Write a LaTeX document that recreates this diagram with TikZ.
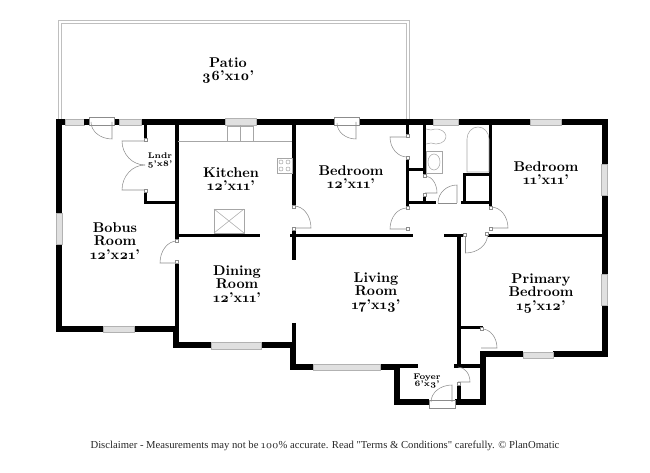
\documentclass[tikz,border=0pt]{standalone}
\usepackage{fontspec}
\setmainfont[Numbers=OldStyle]{Latin Modern Roman}
\newfontfamily\notefont{Liberation Serif}
\usepackage{tikz}
\tikzset{
	wall/.style={line width=4.5pt, black},
	thinwall/.style={line width=2.3pt, black},
	window/.style={draw=black!30, fill=black!12, line width=0.5pt},
	doorline/.style={draw=black!45, line width=0.4pt},
	jamb/.style={draw=black!45, fill=white, line width=0.3pt},
	fixture/.style={draw=black!35, line width=0.4pt},
	patioline/.style={draw=black!25, line width=0.6pt},
	roomlabel/.style={font=\bfseries\fontsize{10.6}{9.9}\selectfont, align=center, inner sep=0pt, text=black},
	smalllabel/.style={font=\bfseries\fontsize{6.2}{5.9}\selectfont, align=center, inner sep=0pt, text=black}
}
\begin{document}
\begin{tikzpicture}[x=0.75pt, y=-0.75pt]
	\useasboundingbox (0,0) rectangle (650,473);

	% Patio
	\draw[patioline] (58.5,119) -- (58.5,20.5) -- (409,20.5) -- (409,119);
	\draw[patioline] (61.5,119) -- (61.5,23) -- (406,23) -- (406,119);

	% Outer walls
	\draw[wall] (84,122) -- (58.7,122) -- (58.7,213);
	\draw[wall] (58.7,244) -- (58.7,329) -- (103,329);
	\draw[wall] (134,329) -- (175.5,329) -- (175.5,345) -- (211,345);
	\draw[wall] (261,345) -- (292.5,345) -- (292.5,367) -- (313,367);
	\draw[wall] (380,367) -- (397,367) -- (397,402.5) -- (429,402.5);
	\draw[wall] (455,402.5) -- (482.5,402.5) -- (482.5,354.5) -- (523,354.5);
	\draw[wall] (553,354.5) -- (604.5,354.5) -- (604.5,305);
	\draw[wall] (604.5,274) -- (604.5,195);
	\draw[wall] (604.5,164) -- (604.5,122) -- (561,122);
	\draw[wall] (530,122) -- (458,122);
	\draw[wall] (433,122) -- (359,122);
	\draw[wall] (334,122) -- (256,122);
	\draw[wall] (225,122) -- (141,122);

	% Inner walls
	\draw[thinwall] (177,122) -- (177,240);
	\draw[thinwall] (177,263) -- (177,327);
	\draw[thinwall] (145.5,122) -- (145.5,138);
	\draw[thinwall] (145.5,193) -- (145.5,202.5) -- (177,202.5);
	\draw[thinwall] (177,235.5) -- (260,235.5);
	\draw[thinwall] (290,235.5) -- (413,235.5);
	\draw[thinwall] (444,235.5) -- (464,235.5);
	\draw[thinwall] (488,235.5) -- (602,235.5);
	\draw[thinwall] (294,122) -- (294,206);
	\draw[thinwall] (294,230) -- (294,260);
	\draw[thinwall] (294,323) -- (294,343);
	\draw[thinwall] (407.5,122) -- (407.5,135);
	\draw[thinwall] (407.5,158) -- (407.5,207);
	\draw[thinwall] (407,169.5) -- (425,169.5);
	\draw[thinwall] (424.5,122) -- (424.5,175);
	\draw[thinwall] (424.5,196) -- (424.5,202);
	\draw[thinwall] (407,202.5) -- (436,202.5);
	\draw[thinwall] (464.5,174.5) -- (464.5,203);
	\draw[thinwall] (463,174.5) -- (490.5,174.5);
	\draw[thinwall] (490.5,122) -- (490.5,207);
	\draw[thinwall] (461,202.5) -- (491,202.5);
	\draw[thinwall] (459,235.5) -- (459,366);
	\draw[thinwall] (459,327.5) -- (483,327.5);
	\draw[thinwall] (454,366) -- (484,366);
	\draw[thinwall] (459,385) -- (459,401);
	\draw[thinwall] (380,366) -- (418,366);

	% Windows
	\draw[window] (65,119) rectangle (84,125);
	\draw[window] (119,119) rectangle (141,125);
	\draw[window] (225,118.5) rectangle (256,125);
	\draw[window] (433,119) rectangle (458,125);
	\draw[window] (530,119) rectangle (561,125);
	\draw[window] (601.5,164) rectangle (607.5,195);
	\draw[window] (601.5,274) rectangle (607.5,305);
	\draw[window] (523,352) rectangle (553,358);
	\draw[window] (313,364) rectangle (380,370.5);
	\draw[window] (211,342) rectangle (261,349);
	\draw[window] (103,326) rectangle (134,332);
	\draw[window] (56,213) rectangle (62,244);

	% Wall pieces beside the back door
	\fill[black] (84,119) rectangle (89,125);
	\fill[black] (114,119) rectangle (119,125);

	% Doors
	\draw[doorline] (89,117) rectangle (114,125);
	\draw[doorline] (112,122) -- (112,139) arc (90:180:21 and 17);
	\draw[doorline] (334,117) rectangle (359,125);
	\draw[doorline] (356,122) -- (356,139) arc (90:180:19 and 16);
	\draw[doorline] (145,141) -- (122,141) arc (180:90:23 and 24);
	\draw[doorline] (145,190) -- (122,190) arc (180:270:23 and 25);
	\draw[doorline] (294,228) -- (311,228) arc (0:-90:17 and 22);
	\draw[doorline] (177,263) -- (160,263) arc (180:270:17 and 22);
	\draw[doorline] (407,137) -- (390,137) arc (180:90:17 and 20);
	\draw[doorline] (407,229) -- (390,229) arc (180:270:17 and 21);
	\draw[doorline] (425,193) -- (437,193) arc (0:-90:12 and 17);
	\draw[doorline] (457,203) -- (457,185) arc (270:180:19 and 18);
	\draw[doorline] (438,203) -- (457,203);
	\draw[doorline] (491,228) -- (508,228) arc (0:-90:17 and 21);
	\draw[doorline] (465.5,235) -- (465.5,253) arc (90:0:22 and 18);
	\draw[doorline] (481,348) -- (497,348) arc (0:-90:15 and 19);
	\draw[doorline] (458,382) -- (470,382) arc (0:-90:12 and 15);
	\draw[doorline] (429,400) rectangle (455,408);
	\draw[doorline] (452,402) -- (452,385) arc (270:180:21 and 17);

	% Door jambs
	\foreach \jx/\jy in {145.5/140,145.5/191,177/241,177/262,294/207,294/229,
		407.5/136,407.5/158,407.5/208,407.5/229,424.5/176,424.5/195,
		490.5/208,490.5/229,465/235,487/234,482/329,459/384}
		\draw[jamb] (\jx-1.5,\jy-1.5) rectangle (\jx+1.5,\jy+1.5);

	% Kitchen fixtures
	\draw[fixture] (178,141) -- (292,141);
	\draw[fixture] (227,126) rectangle (253,141);
	\draw[fixture] (240,125) -- (240,141);
	\draw[fixture] (277,158) rectangle (292,173);
	\foreach \sx in {281,288}
		\foreach \sy in {162,169}
			\draw[fixture] (\sx,\sy) circle (2);
	\draw[fixture] (214,209) rectangle (244,233);
	\draw[fixture] (214,209) -- (244,233) (214,233) -- (244,209);

	% Bath fixtures
	\draw[fixture] (467,172) -- (467,139) arc (180:360:11 and 12) -- (489,172) -- cycle;
	\draw[fixture] (426,129) -- (431,130) arc (-120:120:10 and 7.5) -- (426,144);
	\draw[fixture] (426,151) rectangle (442,173);
	\draw[fixture] (434,162) ellipse (6 and 8);

	% Labels
	\node[roomlabel] (patio) at (228,70.5) {Patio\\36'x10'};
	\node[roomlabel] (kitchen) at (231,179) {Kitchen\\12'x11'};
	\node[smalllabel] (lndr) at (160,160.5) {Lndr\\5'x8'};
	\node[roomlabel] (bedroomA) at (351,177) {Bedroom\\12'x11'};
	\node[roomlabel] (bedroomB) at (546,173) {Bedroom\\11'x11'};
	\node[roomlabel] (bobus) at (115,241) {Bobus\\Room\\12'x21'};
	\node[roomlabel] (dining) at (237,284) {Dining\\Room\\12'x11'};
	\node[roomlabel] (living) at (376,292.5) {Living\\Room\\17'x13'};
	\node[roomlabel] (primary) at (541,293.5) {Primary\\Bedroom\\15'x12'};
	\node[smalllabel] (foyer) at (427,381) {Foyer\\6'x3'};
	\node[font=\notefont\fontsize{8}{8}\selectfont, text=black!85, inner sep=0pt] (note) at (325,445.5) {Disclaimer - Measurements may not be {\rmfamily 100}\% accurate. Read "Terms \& Conditions" carefully. \textcopyright{} PlanOmatic};
\end{tikzpicture}
\end{document}
